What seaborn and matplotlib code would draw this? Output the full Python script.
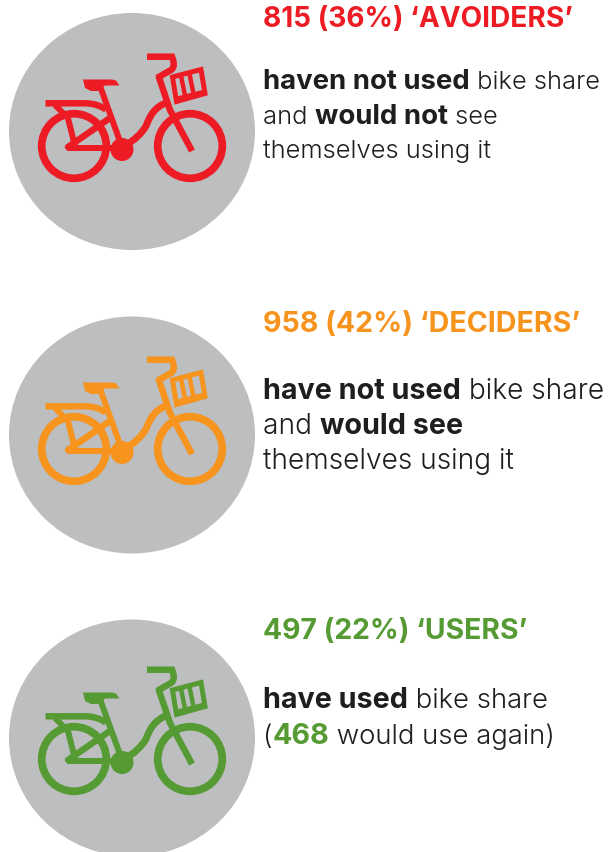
import seaborn as sns
import matplotlib.pyplot as plt
from matplotlib.patches import Ellipse, Circle, Polygon
from matplotlib.patches import PathPatch
from matplotlib.path import Path

# values
counts = [815, 958, 497]
shares = [36, 42, 22]
groups = ['AVOIDERS', 'DECIDERS', 'USERS']
group_colors = ['#ED1C24', '#F7941E', '#559A33']
# text runs per line, True means bold, None means use the group colour
body_lines = [
    [[('haven not used', True), (' bike share', False)],
     [('and ', False), ('would not', True), (' see', False)],
     [('themselves using it', False)]],
    [[('have not used', True), (' bike share', False)],
     [('and ', False), ('would see', True)],
     [('themselves using it', False)]],
    [[('have used', True), (' bike share', False)],
     [('(', False), ('468', None), (' would use again)', False)]],
]

# layout, in pixels of the picture
offsets = [1, 304, 614]
circle_y = [132.5, 436, 739]
title_y = [27, 332, 639]
body_y = [[89, 123.5, 158], [399, 434, 469], [708, 744]]
# the three blocks are not set at quite the same size
title_size = [20.2, 20.6, 20.4]
bold_size = [19.8, 20.7, 20.7]
light_size = [18.4, 20.2, 19.8]

sns.set_theme(style='white')
plt.rcParams['font.family'] = ['Inter', 'DejaVu Sans']

fig = plt.figure(figsize=(6.15, 8.53), dpi=100)
ax = fig.add_axes([0, 0, 1, 1])
ax.set_xlim(0, 615)
ax.set_ylim(853, 0)
ax.axis('off')


def px(w):
    return w * 0.72


def draw_bike(ax, dy, color):
    def line(points, w, cap='butt'):
        ax.plot([p[0] for p in points], [p[1] + dy for p in points], color=color,
                lw=px(w), solid_capstyle=cap, solid_joinstyle='miter', zorder=3)

    def curve(verts, codes, w):
        ax.add_patch(PathPatch(Path([(x, y + dy) for x, y in verts], codes), fill=False,
                               ec=color, lw=px(w), capstyle='butt', zorder=3))

    # wheels and hub
    for cx in [74, 190]:
        ax.add_patch(Circle((cx, 146 + dy), 32.3, fill=False, ec=color, lw=px(7.7), zorder=3))
    ax.add_patch(Circle((122, 149.5 + dy), 11.5, fc=color, ec='none', zorder=3))

    # rack
    curve([(45.5, 103.3), (87, 103.3), (98, 104), (106, 109.5)],
          [Path.MOVETO, Path.LINETO, Path.CURVE3, Path.CURVE3], 6.5)
    line([(55, 105), (66, 116)], 6)
    line([(66.7, 113), (75.5, 148)], 6)

    # frame
    line([(67, 148), (113, 148)], 6)
    line([(68, 147), (110, 118)], 6.5, cap='round')
    line([(100, 86), (122, 147)], 6)

    # saddle
    saddle = [(83, 79.5), (112, 79.5), (116, 80.5), (119.5, 85.5), (105, 85.5), (98, 91), (91, 91), (85, 88), (83, 79.5)]
    ax.add_patch(Polygon([(x, y + dy) for x, y in saddle], fc=color, ec='none', zorder=3))

    # main tube, low step through curve
    curve([(124, 146), (134, 141), (142, 133), (146, 126), (150, 116), (154, 107), (168, 102)],
          [Path.MOVETO] + [Path.CURVE4] * 6, 7)

    # fork and handlebar
    line([(158.5, 76), (170, 110), (192, 151)], 6.5)
    curve([(157, 78), (171, 70), (175, 67), (174, 62), (172, 56.7), (166, 56.7), (147, 56.7)],
          [Path.MOVETO, Path.LINETO, Path.CURVE4, Path.CURVE4, Path.CURVE4, Path.LINETO, Path.LINETO], 6.5)

    # basket
    basket = [(172.5, 77), (201, 69.5), (205, 93.5), (176.5, 101.5)]
    ax.add_patch(Polygon([(x, y + dy) for x, y in basket], fill=False, ec=color,
                         lw=px(5), joinstyle='miter', zorder=3))
    line([(181, 76), (185.5, 98)], 4.5)
    line([(189.5, 74), (194, 96)], 4.5)
    line([(178, 98.5), (205, 91.5)], 4.5)


def draw_runs(ax, x, y, runs, color, i):
    # one line of text made from bold and regular pieces, placed one after the other
    renderer = fig.canvas.get_renderer()
    for piece, bold in runs:
        c = color if bold is None else '#1E1E1E'
        light = bold is False
        t = ax.text(x, y, piece.replace(' ', '\u00a0'), fontsize=light_size[i] if light else bold_size[i],
                    fontweight=300 if light else 'bold', color=c, ha='left', va='baseline', zorder=4)
        x += t.get_window_extent(renderer).width


for i, group in enumerate(groups):
    color = group_colors[i]
    ax.add_patch(Ellipse((132, circle_y[i]), 246, 237, fc='#BCBEC0', ec='none', zorder=1))
    draw_bike(ax, offsets[i], color)
    ax.text(263, title_y[i], f'{counts[i]} ({shares[i]}%) \u2018{group}\u2019', fontsize=title_size[i],
            fontweight='bold', color=color, ha='left', va='baseline', zorder=4)
    for runs, y in zip(body_lines[i], body_y[i]):
        draw_runs(ax, 263, y, runs, color, i)

plt.savefig('out.png', dpi=100)
